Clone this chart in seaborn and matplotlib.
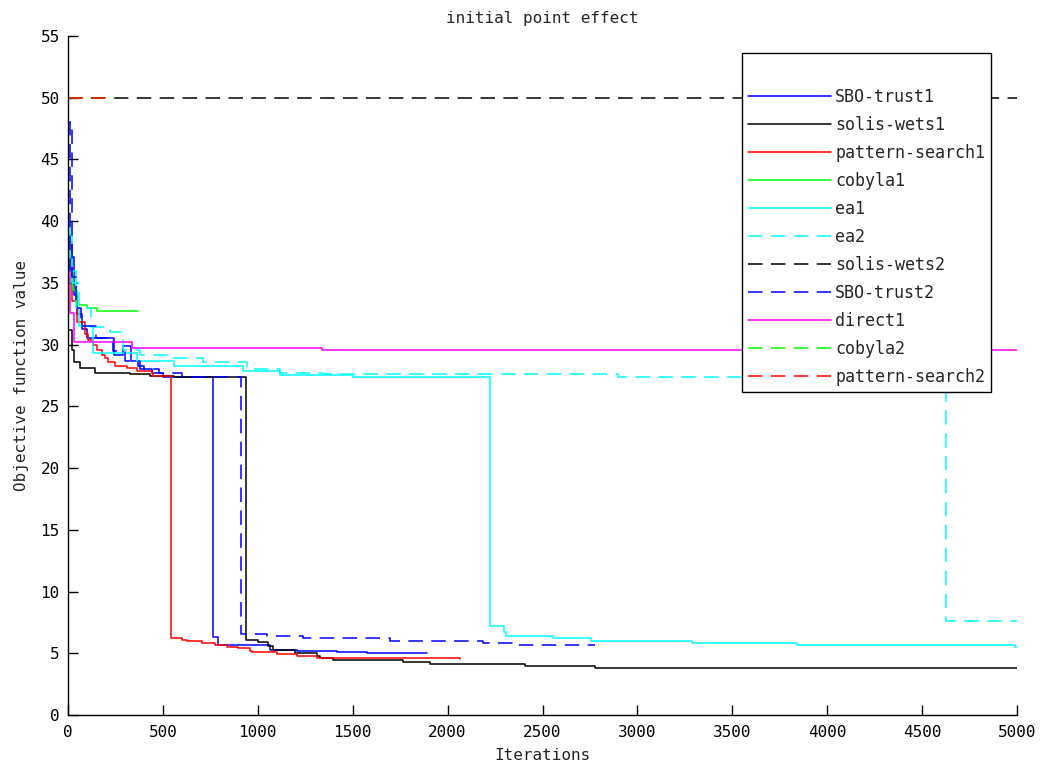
import pandas as pd
import seaborn as sns
import matplotlib.pyplot as plt

# Iterations / objective values (best-so-far curves)
sbo1_it = [0, 30, 47, 75, 100, 240, 290, 330, 370, 400, 440, 500, 766, 792, 1064, 1205, 1415, 1574, 1890]
sbo1_val = [37.1, 34.0, 32.5, 31.3, 30.5, 29.2, 29.9, 28.7, 28.3, 28.0, 27.7, 27.4, 6.29, 5.67, 5.26, 5.18, 5.13, 5.0, 5.0]

solis1_it = [0, 19, 32, 63, 142, 327, 432, 560, 938, 1003, 1055, 1078, 1196, 1310, 1328, 1398, 1767, 1907, 2408, 2776, 5000]
solis1_val = [31.2, 29.55, 28.6, 28.07, 27.72, 27.6, 27.45, 27.34, 6.07, 5.88, 5.62, 5.26, 5.05, 4.78, 4.59, 4.42, 4.26, 4.1, 3.97, 3.83, 3.83]

ps1_it = [0, 20, 45, 89, 105, 132, 151, 177, 195, 212, 248, 309, 362, 441, 450, 541, 599, 625, 704, 775, 836, 896, 959, 968, 1099, 1205, 1310, 1433, 2065]
ps1_val = [38.3, 33.5, 31.8, 30.9, 30.4, 30.0, 29.55, 29.15, 28.9, 28.6, 28.3, 28.07, 27.88, 27.72, 27.45, 6.21, 6.05, 5.96, 5.83, 5.67, 5.53, 5.4, 5.18, 5.07, 4.94, 4.78, 4.64, 4.59, 4.56]

cob1_it = [0, 10, 25, 50, 100, 151, 368]
cob1_val = [37.6, 36.0, 34.4, 33.2, 33.0, 32.74, 32.74]

ea1_it = [0, 10, 40, 60, 133, 365, 560, 923, 1117, 1503, 2223, 2297, 2308, 2557, 2754, 3286, 3839, 4990, 5000]
ea1_val = [40.0, 36.0, 33.0, 31.5, 29.3, 28.7, 28.3, 27.9, 27.53, 27.34, 7.2, 6.75, 6.4, 6.21, 5.96, 5.83, 5.64, 5.5, 5.5]

ea2_it = [0, 20, 60, 120, 220, 290, 380, 560, 711, 943, 1117, 1343, 2900, 4626, 5000]
ea2_val = [39.0, 35.0, 33.0, 31.4, 31.0, 29.6, 29.15, 28.9, 28.6, 28.0, 27.7, 27.6, 27.4, 7.61, 7.61]

solis2_it = [0, 5000]
solis2_val = [50.0, 50.0]

sbo2_it = [0, 12, 22, 40, 70, 150, 237, 300, 380, 480, 600, 910, 1047, 1240, 1697, 2187, 2364, 2776]
sbo2_val = [36.0, 48.0, 35.5, 33.0, 31.5, 30.5, 29.5, 28.7, 28.0, 27.7, 27.4, 6.53, 6.42, 6.21, 6.02, 5.8, 5.64, 5.64]

direct1_it = [0, 10, 30, 336, 1337, 5000]
direct1_val = [36.0, 32.6, 30.2, 29.72, 29.55, 29.55]

cob2_it = [0, 250]
cob2_val = [50.0, 50.0]

ps2_it = [0, 240]
ps2_val = [50.0, 50.0]

series = [
    ("SBO-trust1", sbo1_it, sbo1_val, "#0000ff", "-"),
    ("solis-wets1", solis1_it, solis1_val, "#000000", "-"),
    ("pattern-search1", ps1_it, ps1_val, "#ff0000", "-"),
    ("cobyla1", cob1_it, cob1_val, "#00ff00", "-"),
    ("ea1", ea1_it, ea1_val, "#00ffff", "-"),
    ("ea2", ea2_it, ea2_val, "#00ffff", "--"),
    ("solis-wets2", solis2_it, solis2_val, "#000000", "--"),
    ("SBO-trust2", sbo2_it, sbo2_val, "#0000ff", "--"),
    ("direct1", direct1_it, direct1_val, "#ff00ff", "-"),
    ("cobyla2", cob2_it, cob2_val, "#00ff00", "--"),
    ("pattern-search2", ps2_it, ps2_val, "#ff0000", "--"),
]

sns.set_theme(style="white")
plt.rcParams["font.family"] = ["DejaVu Sans Mono"]

fig = plt.figure(figsize=(10.41, 7.74), dpi=100)
ax = fig.add_axes([68 / 1041, 1 - 715 / 774, 949 / 1041, 679 / 774])

for name, it, val, col, ls in series:
    df = pd.DataFrame({"Iterations": it, "value": val})
    kw = dict(dashes=(9.5, 5.5)) if ls == "--" else {}
    sns.lineplot(data=df, x="Iterations", y="value", ax=ax, color=col,
                 drawstyle="steps-post", linewidth=1.1, label=name,
                 estimator=None, **kw)

ax.set_xlim(0, 5000)
ax.set_ylim(0, 55)
ax.set_xticks(range(0, 5001, 500))
ax.set_yticks(range(0, 56, 5))
ax.tick_params(direction="in", length=7, width=1, labelsize=11.5, colors="black",
               left=True, bottom=True, top=False, right=False)
ax.tick_params(axis="x", pad=7)
ax.tick_params(axis="y", pad=6)
for s in ["top", "right"]:
    ax.spines[s].set_visible(False)
for s in ["left", "bottom"]:
    ax.spines[s].set_color("black")
    ax.spines[s].set_linewidth(1.0)
ax.grid(False)

ax.set_title("initial point effect", fontsize=11.5, pad=9)
ax.set_xlabel("Iterations", fontsize=11.5, labelpad=6)
ax.set_ylabel("Objective function value", fontsize=11.5, labelpad=8)

leg = ax.legend(loc="upper right", bbox_to_anchor=((991 - 68) / 949, (715 - 53) / 679),
                borderaxespad=0, fontsize=12, title=" ", title_fontsize=14,
                fancybox=False, framealpha=1, edgecolor="black",
                handlelength=5.0, handletextpad=0.25, labelspacing=0.6,
                borderpad=0.35)
leg.get_frame().set_linewidth(1.0)

fig.savefig("out.png", dpi=100)
